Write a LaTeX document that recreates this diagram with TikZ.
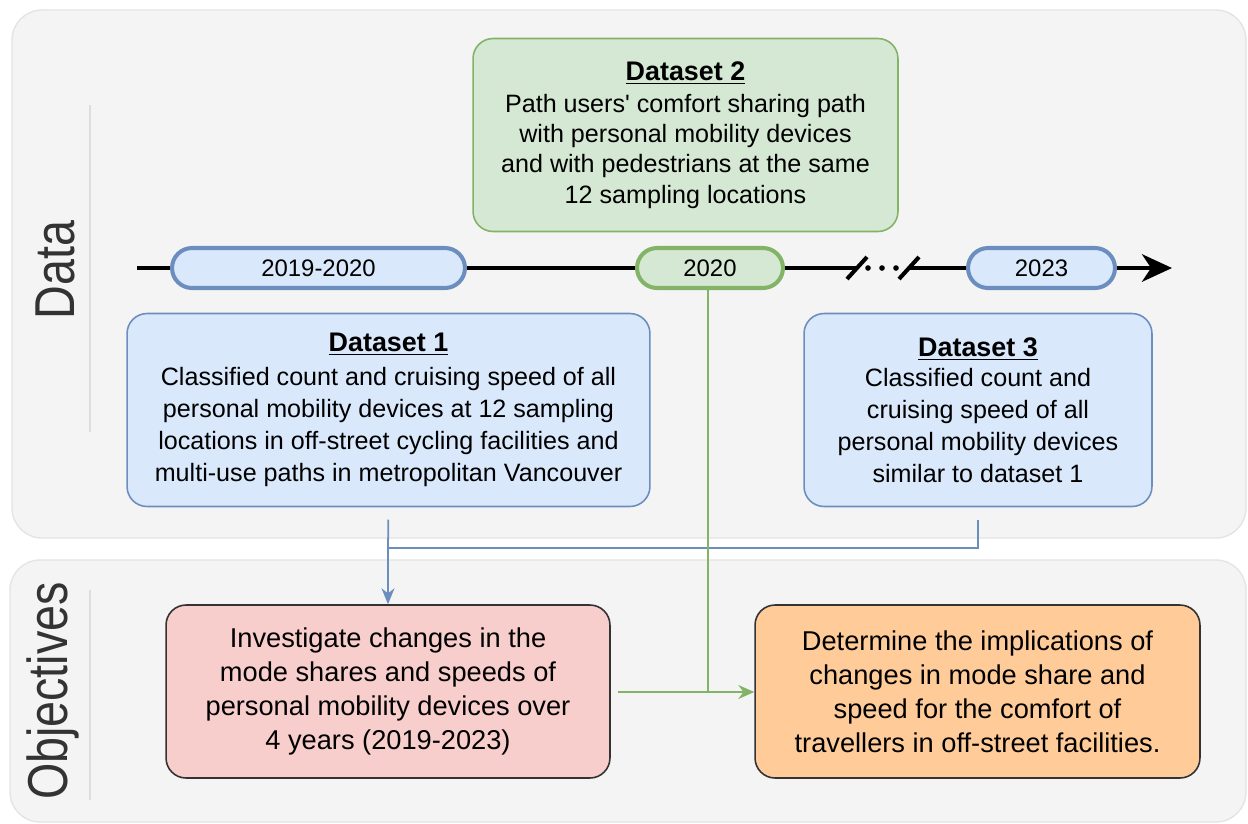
\documentclass[tikz,border=0pt]{standalone}
\usepackage{fontspec}
\setmainfont{Liberation Sans}
\newfontfamily\lsans{Liberation Sans}
\usetikzlibrary{arrows.meta}
\definecolor{bfill}{HTML}{DAE8FC}
\definecolor{bline}{HTML}{6C8EBF}
\definecolor{gfill}{HTML}{D5E8D4}
\definecolor{gline}{HTML}{82B366}
\definecolor{rfill}{HTML}{F8CECC}
\definecolor{ofill}{HTML}{FFCC99}
\definecolor{panelfill}{HTML}{F4F4F4}
\definecolor{panelline}{HTML}{E4E4E4}
\definecolor{sepline}{HTML}{DDDDDD}
\definecolor{labelcol}{HTML}{333333}
\tikzset{
  panel/.style={draw=panelline, fill=panelfill, line width=0.8pt, rounded corners=0.6cm},
  txt/.style={font=\fontsize{14.3}{18.2}\selectfont, align=center, inner sep=0pt},
  bluebox/.style={txt, draw=bline, fill=bfill, line width=0.9pt, rounded corners=0.4cm},
  greenbox/.style={txt, draw=gline, fill=gfill, line width=0.9pt, rounded corners=0.4cm},
  objbox/.style={font=\fontsize{15.5}{19.4}\selectfont, align=center, inner sep=0pt, draw=black!80, line width=0.9pt, rounded corners=0.4cm},
  pill/.style={font=\fontsize{13.6}{15}\selectfont, inner sep=0pt, minimum height=0.8cm, rounded corners=0.4cm, line width=2.3pt},
  bluepill/.style={pill, draw=bline, fill=bfill},
  greenpill/.style={pill, draw=gline, fill=gfill},
  sidelabel/.style={text=labelcol, rotate=90, inner sep=0pt},
  blueconn/.style={draw=bline, line width=1pt},
  greenconn/.style={draw=gline, line width=1pt},
  timeline/.style={line width=2.3pt, draw=black},
}
\newcommand{\dstitle}[1]{{\fontsize{15.3}{18}\selectfont\bfseries\underline{#1}}}
\begin{document}
\begin{tikzpicture}[x=0.02cm, y=-0.02cm]
\useasboundingbox (0,0) rectangle (1248,823);
% panels
\draw[panel] (12,10) rectangle (1246,538);
\draw[panel] (10,560) rectangle (1246,822);
\draw[sepline, line width=0.8pt] (90,105) -- (90,432);
\draw[sepline, line width=0.8pt] (90,590) -- (90,800);
\node[sidelabel] (lbldata) at (55,270) {\scalebox{0.83}[1]{\fontsize{32}{32}\selectfont Data}};
\node[sidelabel] (lblobj) at (53,691) {\scalebox{0.83}[1]{\fontsize{32}{32}\selectfont Objectives}};

% timeline
\coordinate (tlstart) at (137,268);
\coordinate (brk1) at (857,268);
\coordinate (brk2) at (909,268);
\coordinate (tlend) at (1172,268);
\draw[timeline] (tlstart) -- (brk1);
\draw[timeline, -{Stealth[length=0.6cm,width=0.55cm,inset=0.18cm]}] (brk2) -- (tlend);
\draw[line width=2.3pt] (847,279) -- (867,257);
\draw[line width=2.3pt] (899,279) -- (919,257);
\fill (868,268) circle (1.6pt) (882,268) circle (1.6pt) (896,268) circle (1.6pt);

\node[bluepill, minimum width=5.86cm] (p1) at (318.5,268) {2019-2020};
\node[greenpill, minimum width=2.92cm] (p2) at (710,268) {2020};
\node[bluepill, minimum width=2.94cm] (p3) at (1041.5,268) {2023};

% datasets
\node[greenbox, minimum width=8.5cm, minimum height=3.86cm, font=\fontsize{14.3}{17.2}\selectfont] (d2) at (685.5,135)
 {\dstitle{Dataset 2}\\[1pt]
  Path users{\lsans '} comfort sharing path\\
  with personal mobility devices\\
  and with pedestrians at the same\\
  12 sampling locations};
\node[bluebox, minimum width=10.46cm, minimum height=3.86cm] (d1) at (388.5,410)
 {\dstitle{Dataset 1}\\[1pt]
  Classified count and cruising speed of all\\
  personal mobility devices at 12 sampling\\
  locations in off-street cycling facilities and\\
  multi-use paths in metropolitan Vancouver};
\node[bluebox, minimum width=6.96cm, minimum height=3.86cm] (d3) at (978,410)
 {\dstitle{Dataset 3}\\[-1pt]
  Classified count and\\
  cruising speed of all\\
  personal mobility devices\\
  similar to dataset 1};

% objectives
\node[objbox, fill=rfill, minimum width=8.88cm, minimum height=3.46cm] (o1) at (388,691.5)
 {Investigate changes in the\\
  mode shares and speeds of\\
  personal mobility devices over\\
  4 years (2019-2023)};
\node[objbox, fill=ofill, minimum width=8.9cm, minimum height=3.46cm] (o2) at (977.5,691.5)
 {Determine the implications of\\
  changes in mode share and\\
  speed for the comfort of\\
  travellers in off-street facilities.};

% connectors
\coordinate (bj1) at (388,548);
\coordinate (bj3) at (978,548);
\draw[blueconn, -{Stealth[length=0.32cm,width=0.26cm]}, shorten <=7pt] (d1.south) -- (bj1) -- (o1.north);
\draw[blueconn, shorten <=7pt] (d3.south) -- (bj3) -- (bj1);
\coordinate (gj) at (708,692);
\draw[greenconn] (p2.south) ++(-2,0) -- (gj);
\draw[greenconn, -{Stealth[length=0.32cm,width=0.28cm]}, shorten <=4pt] (o1.east |- gj) -- (o2.west |- gj);
\end{tikzpicture}
\end{document}
